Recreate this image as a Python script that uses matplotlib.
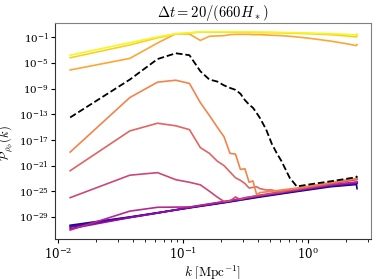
import matplotlib
matplotlib.use('Agg')
import matplotlib.pyplot as plt
import numpy as np

plt.rcParams['mathtext.fontset'] = 'cm'
plt.rcParams['font.family'] = 'serif'
plt.rcParams['font.serif'] = ['DejaVu Serif']

# wavenumbers [Mpc^-1] of the binned spectra
k_full = [0.0125, 0.0375, 0.0625, 0.0875, 0.1125, 0.1375, 0.1625, 0.1875,
          0.2125, 0.2375, 0.2625, 0.2875, 0.3125, 0.3375, 0.3625, 0.3875,
          0.4125, 0.4625, 0.5125, 0.5625, 0.6125, 0.7125, 0.8125, 1.0125,
          1.5125, 2.0125, 2.4375, 2.4625]
# coarse grid for the smooth early-time spectra
k_low = [0.0125, 0.0375, 0.0625, 0.1125, 0.2125, 0.4125, 0.8125, 1.5125,
         2.4375, 2.4625]

# log10 P(k), early -> late (plasma 0.0 ... 1.0)
logP_00 = [-30.3, -29.0, -28.35, -27.6, -26.8, -25.9, -25.05, -24.3, -23.95, -24.6]
logP_01 = [-30.45, -29.05, -28.35, -27.55, -26.75, -25.8, -24.95, -24.2, -23.85, -23.8]
logP_02 = [-30.6, -29.1, -28.4, -27.55, -26.7, -25.75, -24.9, -24.1, -23.75, -23.7]
logP_03 = [-30.85, -29.1, -28.4, -27.5, -26.65, -25.7, -24.85, -24.05, -23.65, -23.6]
logP_04 = [-31.05, -28.1, -27.5, -27.45, -26.6, -25.65, -24.8, -24.0, -23.55, -23.5]
logP_05 = [-26.0, -22.5, -22.1, -23.2, -23.6, -24.0, -25.0, -25.9, -26.6, -26.5,
           -25.9, -26.3, -26.0, -25.9, -25.8, -25.7, -25.6, -25.45, -25.3, -25.2,
           -25.1, -24.85, -24.7, -24.4, -23.85, -23.45, -23.2, -23.15]
logP_06 = [-21.8, -15.6, -14.4, -14.8, -15.4, -18.2, -19.1, -20.3, -21.0, -22.0,
           -22.9, -23.3, -23.8, -24.5, -24.4, -24.3, -24.6, -24.8, -24.8, -25.0,
           -25.0, -24.75, -24.6, -24.3, -23.75, -23.35, -23.1, -23.0]
logP_07 = [-18.9, -10.4, -8.0, -7.7, -8.2, -11.2, -13.2, -15.0, -16.5, -19.1,
           -19.2, -21.6, -21.5, -23.6, -23.4, -25.5, -25.2, -25.1, -25.0, -24.9,
           -24.8, -24.65, -24.5, -24.2, -23.65, -23.25, -23.0, -22.9]
logP_08 = [-6.1, -4.3, -1.9, -0.45, -0.5, -1.5, -0.85, -0.8, -0.75, -0.6,
           -0.55, -0.55, -0.55, -0.55, -0.6, -0.6, -0.6, -0.65, -0.7, -0.72,
           -0.75, -0.85, -0.95, -1.15, -1.6, -2.0, -2.3, -2.15]
logP_09 = [-4.2, -2.2, -1.1, -0.5, -0.35, -0.2, -0.2, -0.2, -0.2, -0.22,
           -0.22, -0.24, -0.25, -0.26, -0.27, -0.28, -0.29, -0.3, -0.3, -0.32,
           -0.33, -0.37, -0.4, -0.45, -0.6, -0.8, -0.95, -0.75]
logP_10 = [-3.8, -1.85, -0.95, -0.45, -0.3, -0.15, -0.14, -0.13, -0.13, -0.14,
           -0.14, -0.15, -0.15, -0.16, -0.17, -0.18, -0.19, -0.2, -0.22, -0.23,
           -0.25, -0.28, -0.3, -0.35, -0.45, -0.55, -0.65, -0.5]
# reference spectrum (dashed)
logP_ref = [-13.5, -7.6, -4.4, -3.5, -3.8, -6.3, -7.6, -7.9, -8.5, -8.9,
            -9.2, -9.8, -10.8, -11.5, -12.0, -12.8, -13.6, -15.4, -17.6, -19.1,
            -20.3, -22.9, -24.25, -23.95, -23.45, -23.07, -22.8, -22.6]

spectra = [(k_low, logP_00), (k_low, logP_01), (k_low, logP_02), (k_low, logP_03),
           (k_low, logP_04), (k_full, logP_05), (k_full, logP_06), (k_full, logP_07),
           (k_full, logP_08), (k_full, logP_09), (k_full, logP_10)]

ytick_exps = [-1, -5, -9, -13, -17, -21, -25, -29]

fig = plt.figure(figsize=(3.77, 2.79), dpi=100)
ax = fig.add_axes([0.146, 0.142, 0.837, 0.777])

colors = plt.cm.plasma(np.linspace(0, 1, len(spectra)))
for (kk, lp), c in zip(spectra, colors):
    ax.plot(kk, 10.0 ** np.array(lp), color=c, lw=1.2)
ax.plot(k_full, 10.0 ** np.array(logP_ref), 'k--', lw=1.3)

ax.set_xscale('log')
ax.set_yscale('log')
ax.set_xlim(10 ** -2.024, 10 ** 0.50)
ax.set_ylim(10 ** -32.5, 10 ** 1.28)
ax.set_yticks([10.0 ** e for e in ytick_exps])
ax.yaxis.set_minor_locator(matplotlib.ticker.NullLocator())
ax.tick_params(length=3)
ax.tick_params(axis='y', labelsize=7.5, pad=1.5)
ax.tick_params(axis='x', labelsize=8.5, pad=2)
ax.tick_params(which='minor', length=1.8)

for side in ['top', 'right']:
    ax.spines[side].set_color('0.5')
for side in ['left', 'bottom']:
    ax.spines[side].set_color('0.2')

ax.set_xlabel(r'$k\ [\mathrm{Mpc}^{-1}]$', fontsize=9.5, labelpad=0.5)
ax.set_ylabel(r'$\mathcal{P}_{\rho_\phi}(k)$', fontsize=9)
ax.yaxis.set_label_coords(-0.125, 0.445)
ax.set_title(r'$\Delta t = 20/(660 H_*)$', fontsize=10.5, pad=4)

fig.savefig('out.png', dpi=100)
